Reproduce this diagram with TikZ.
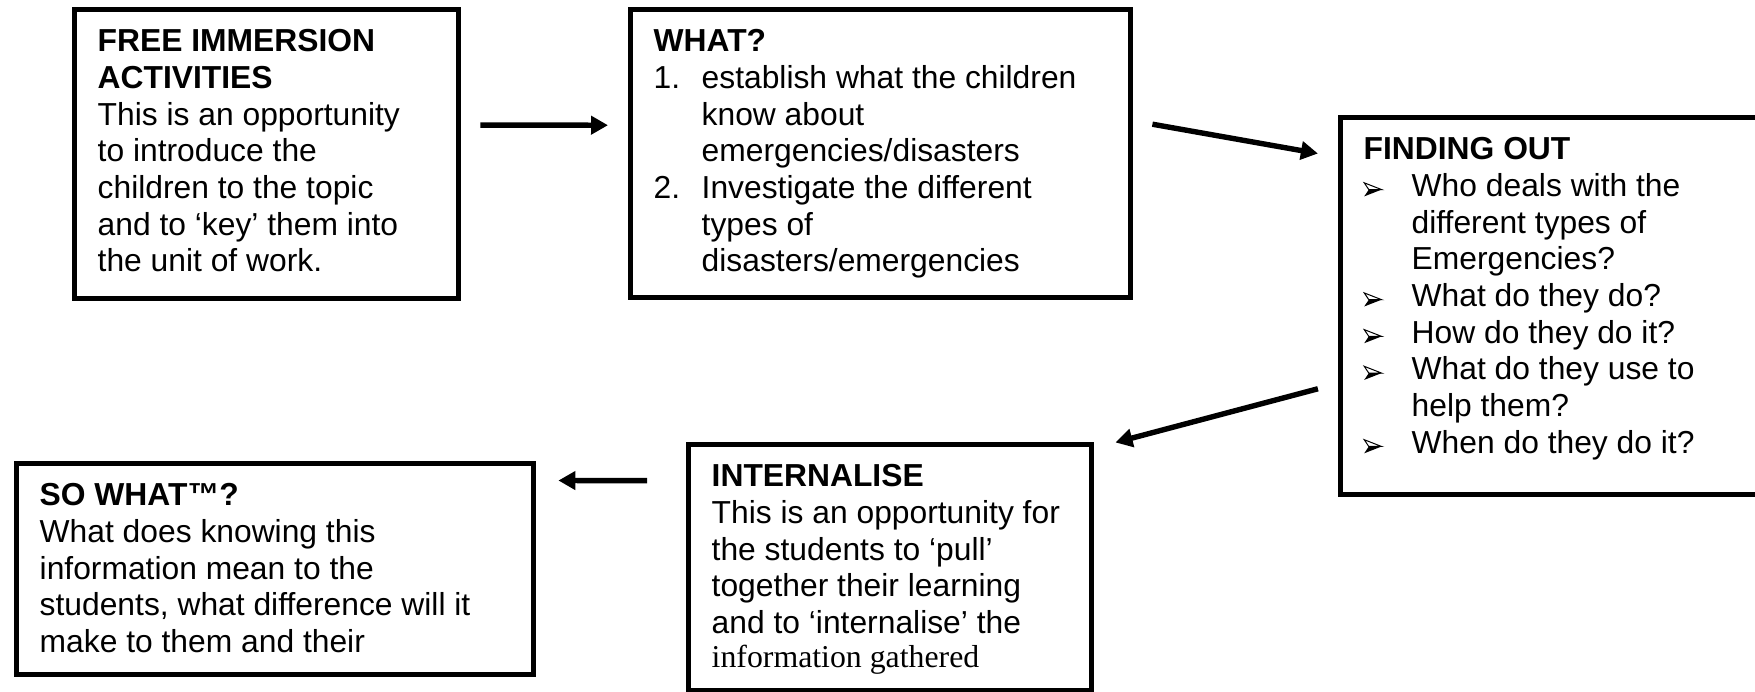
\documentclass[tikz,border=0pt]{standalone}
\usepackage{fontspec}
\setmainfont{Liberation Sans}
\newfontfamily\timesfont{Liberation Serif}
\usetikzlibrary{arrows.meta, calc}
\tikzstyle{stage} = [rectangle, draw=black, line width=2.7pt, anchor=north west, inner xsep=11.5pt, inner ysep=8.15pt]
\tikzstyle{edge} = [line width=2.7pt, -{Triangle[length=8.5pt, width=9pt]}]
\newcommand{\stagetext}[3]{\parbox[t][#2][t]{#1}{\strut #3}}
\newcommand{\numitem}[1]{\makebox[24pt][l]{#1}}
\newcommand{\pointer}{\makebox[24pt][l]{\tikz[x=1pt, y=1pt, line width=0.5pt, line join=miter, baseline=0pt]{\draw (0.3,6.8) -- (9,3.4) -- (2.6,3.4) -- cycle; \fill (2.6,3.4) -- (9,3.4) -- (0.3,0) -- cycle;}}}

\begin{document}
\begin{tikzpicture}[x=0.5pt, y=-0.5pt, font=\fontsize{15.9pt}{18.35pt}\selectfont]

\useasboundingbox (0,0) rectangle (1755,691);
\clip (0,0) rectangle (1755,691);

\node (0) [stage] at (72,7) {\stagetext{169pt}{128.2pt}{\textbf{FREE IMMERSION}\\ \textbf{ACTIVITIES}\\ This is an opportunity\\ to introduce the\\ children to the topic\\ and to ‘key’ them into\\ the unit of work.}};
\node (1) [stage] at (628,7) {\stagetext{227pt}{127.7pt}{\textbf{WHAT?}\\ \numitem{1.}establish what the children\\ \numitem{}know about\\ \numitem{}emergencies/disasters\\ \numitem{2.}Investigate the different\\ \numitem{}types of\\ \numitem{}disasters/emergencies}};
\node (2) [stage] at (1338,115) {\stagetext{195.5pt}{172.2pt}{\textbf{FINDING OUT}\\ \pointer Who deals with the\\ \numitem{}different types of\\ \numitem{}Emergencies?\\ \pointer What do they do?\\ \pointer How do they do it?\\ \pointer What do they use to\\ \numitem{}help them?\\ \pointer When do they do it?}};
\node (3) [stage] at (686,442) {\stagetext{178.5pt}{106.7pt}{\textbf{INTERNALISE}\\ This is an opportunity for\\ the students to ‘pull’\\ together their learning\\ and to ‘internalise’ the\\[-1.5pt] {\timesfont information gathered}}};
\node (4) [stage] at (14,461) {\stagetext{235.5pt}{89.2pt}{\textbf{SO WHAT™?}\\ What does knowing this\\ information mean to the\\ students, what difference will it\\ make to them and their}};

\draw [edge, shorten <=9.5pt, shorten >=10pt] ($(0.north east)!.401!(0.south east)$) -- ($(1.north west)!.403!(1.south west)$);
\draw [edge, shorten <=9.65pt, shorten >=10.2pt] ($(1.north east)!.388!(1.south east)$) -- ($(2.north west)!.110!(2.south west)$);
\draw [edge, shorten <=10.4pt, shorten >=10.9pt] ($(2.north west)!.702!(2.south west)$) -- ($(3.north east)!.024!(3.south east)$);
\draw [edge, shorten <=19.5pt, shorten >=11pt] ($(3.north west)!.154!(3.south west)$) -- ($(4.north east)!.090!(4.south east)$);

\end{tikzpicture}
\end{document}
